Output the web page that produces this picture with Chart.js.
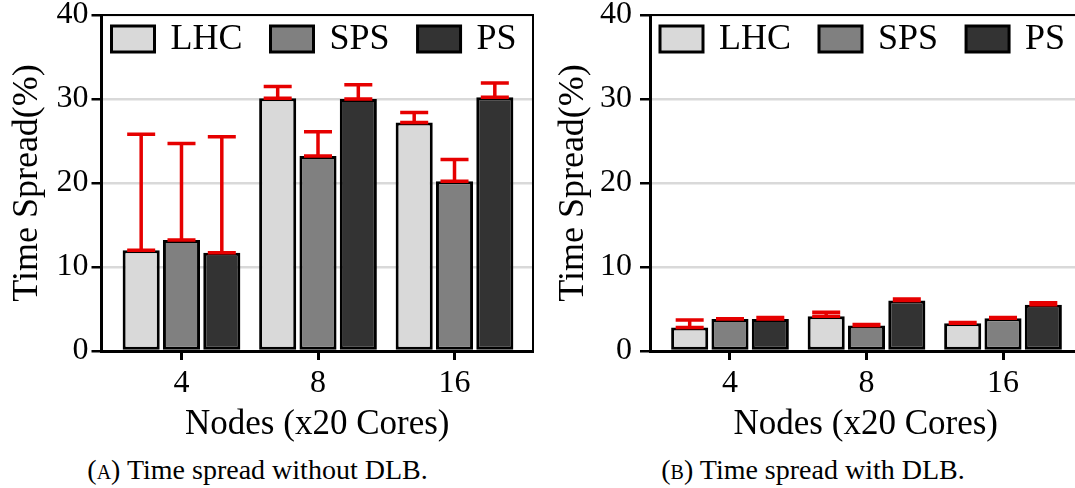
<!DOCTYPE html>
<html>
<head>
<meta charset="utf-8">
<script src="https://cdn.jsdelivr.net/npm/chart.js@4.4.0/dist/chart.umd.min.js"></script>
<style>
  html, body { margin: 0; padding: 0; background: #fff; overflow: hidden; width: 1075px; height: 488px; }
  .box { position: absolute; top: 0; width: 545px; height: 450px; }
  .cap { position: absolute; top: 454px; line-height: 30px; font: 28px 'Liberation Serif', serif; text-align: center; color: #000; }
  .sc { font-variant: small-caps; }
</style>
</head>
<body>
<div class="box" style="left:0"><canvas id="chartA" width="545" height="450"></canvas></div>
<div class="box" style="left:546px"><canvas id="chartB" width="545" height="450"></canvas></div>
<div class="cap" style="left:0;width:515px">(<span class="sc">a</span>) Time spread without DLB.</div>
<div class="cap" style="left:540px;width:546px">(<span class="sc">b</span>) Time spread with DLB.</div>
<script>
const categories = ['4', '8', '16'];
const seriesNames = ['LHC', 'SPS', 'PS'];
const seriesColors = ['#d9d9d9', '#808080', '#333333'];
const yTicks = [0, 10, 20, 30, 40];

// (a) without DLB
const lhcNoDlb = [12.0, 30.1, 27.2];
const spsNoDlb = [13.2, 23.2, 20.2];
const psNoDlb  = [11.7, 30.0, 30.2];
const lhcNoDlbErr = [13.8, 1.4, 1.2];
const spsNoDlbErr = [11.5, 2.9, 2.6];
const psNoDlbErr  = [13.8, 1.7, 1.7];

// (b) with DLB
const lhcDlb = [2.8, 4.15, 3.3];
const spsDlb = [3.8, 3.05, 3.9];
const psDlb  = [3.8, 6.0, 5.5];
const lhcDlbErr = [0.9, 0.45, 0.1];
const spsDlbErr = [0.05, 0.1, 0.1];
const psDlbErr  = [0.2, 0.2, 0.25];

const FONT = "'Liberation Serif', 'DejaVu Serif', serif";

// red error bars: from value up to value + err, caps at both ends
const errorBars = {
  id: 'errorBars',
  afterDatasetsDraw(chart) {
    const { ctx, scales: { y } } = chart;
    ctx.save();
    ctx.strokeStyle = '#e60000';
    ctx.lineWidth = 3.5;
    chart.data.datasets.forEach((ds, i) => {
      chart.getDatasetMeta(i).data.forEach((bar, j) => {
        const v = ds.data[j].y, e = ds.err[j];
        const y0 = y.getPixelForValue(v), y1 = y.getPixelForValue(v + e);
        const x = bar.x, hw = 14;
        ctx.beginPath();
        ctx.moveTo(x, y0); ctx.lineTo(x, y1);
        ctx.moveTo(x - hw, y0); ctx.lineTo(x + hw, y0);
        ctx.moveTo(x - hw, y1); ctx.lineTo(x + hw, y1);
        ctx.stroke();
      });
    });
    ctx.restore();
  }
};

// top / right frame lines
const frame = {
  id: 'frame',
  afterDraw(chart) {
    const { ctx, chartArea: a } = chart;
    ctx.save();
    ctx.strokeStyle = '#000';
    ctx.lineWidth = 2;
    ctx.beginPath();
    ctx.moveTo(a.left, a.top); ctx.lineTo(a.right, a.top); ctx.lineTo(a.right, a.bottom);
    ctx.stroke();
    ctx.restore();
  }
};

// legend inside the plot, top-left
const boxLegend = {
  id: 'boxLegend',
  afterDraw(chart) {
    const { ctx, chartArea } = chart;
    let x = chartArea.left + 10;
    const top = chartArea.top + 11;
    ctx.save();
    ctx.font = "36px " + FONT;
    ctx.textBaseline = 'middle';
    chart.data.datasets.forEach(ds => {
      ctx.fillStyle = ds.backgroundColor;
      ctx.fillRect(x, top, 43, 26);
      ctx.lineWidth = 3; ctx.strokeStyle = '#000';
      ctx.strokeRect(x, top, 43, 26);
      x += 43 + 16;
      ctx.fillStyle = '#000';
      ctx.fillText(ds.label, x, top + 14);
      x += ctx.measureText(ds.label).width + 28;
    });
    ctx.restore();
  }
};

function makeChart(id, values, errs, yWidth, yPad, rightPad) {
  const datasets = seriesNames.map((name, k) => ({
    label: name,
    data: categories.map((c, i) => ({ x: i, y: values[k][i] })),
    err: errs[k],
    backgroundColor: seriesColors[k],
    borderColor: '#000',
    borderWidth: 3,
    borderSkipped: false,
    categoryPercentage: 0.886,
    barPercentage: 0.92
  }));
  return new Chart(document.getElementById(id), {
    type: 'bar',
    data: { datasets },
    options: {
      responsive: false,
      animation: false,
      layout: { padding: { top: 15, right: rightPad, left: 0, bottom: 0 } },
      plugins: { legend: { display: false }, tooltip: { enabled: false } },
      scales: {
        x: {
          type: 'linear', min: -0.586, max: 2.575, offset: false,
          afterBuildTicks: s => { s.ticks = categories.map((c, i) => ({ value: i })); },
          afterFit: s => { s.height = 99; s.paddingLeft = 0; s.paddingRight = 0; },
          ticks: { callback: v => categories[v], font: { family: FONT, size: 32 }, color: '#000', padding: 4, maxRotation: 0, autoSkip: false },
          grid: { display: true, drawOnChartArea: false, drawTicks: true, tickLength: 9, tickWidth: 3, tickColor: '#000', offset: false },
          border: { display: true, color: '#000', width: 3 },
          title: { display: true, text: 'Nodes (x20 Cores)', font: { family: FONT, size: 35 }, color: '#000', padding: { top: 0, bottom: 4 } }
        },
        y: {
          min: 0, max: 40,
          afterBuildTicks: s => { s.ticks = yTicks.map(v => ({ value: v })); },
          afterFit: s => { s.width = yWidth; s.paddingTop = 0; s.paddingBottom = 0; },
          ticks: { font: { family: FONT, size: 32 }, color: '#000', padding: yPad },
          grid: { color: '#d9d9d9', lineWidth: 2.5, tickColor: '#000', tickLength: 10, tickWidth: 2.5 },
          border: { color: '#000', width: 3 },
          title: { display: true, text: 'Time Spread(%)', font: { family: FONT, size: 36 }, color: '#000', padding: { top: 6, bottom: 0 } }
        }
      }
    },
    plugins: [errorBars, frame, boxLegend]
  });
}

makeChart('chartA', [lhcNoDlb, spsNoDlb, psNoDlb], [lhcNoDlbErr, spsNoDlbErr, psNoDlbErr], 101.5, 3, 12);
makeChart('chartB', [lhcDlb, spsDlb, psDlb], [lhcDlbErr, spsDlbErr, psDlbErr], 104, 8, 9.5);
</script>
</body>
</html>
